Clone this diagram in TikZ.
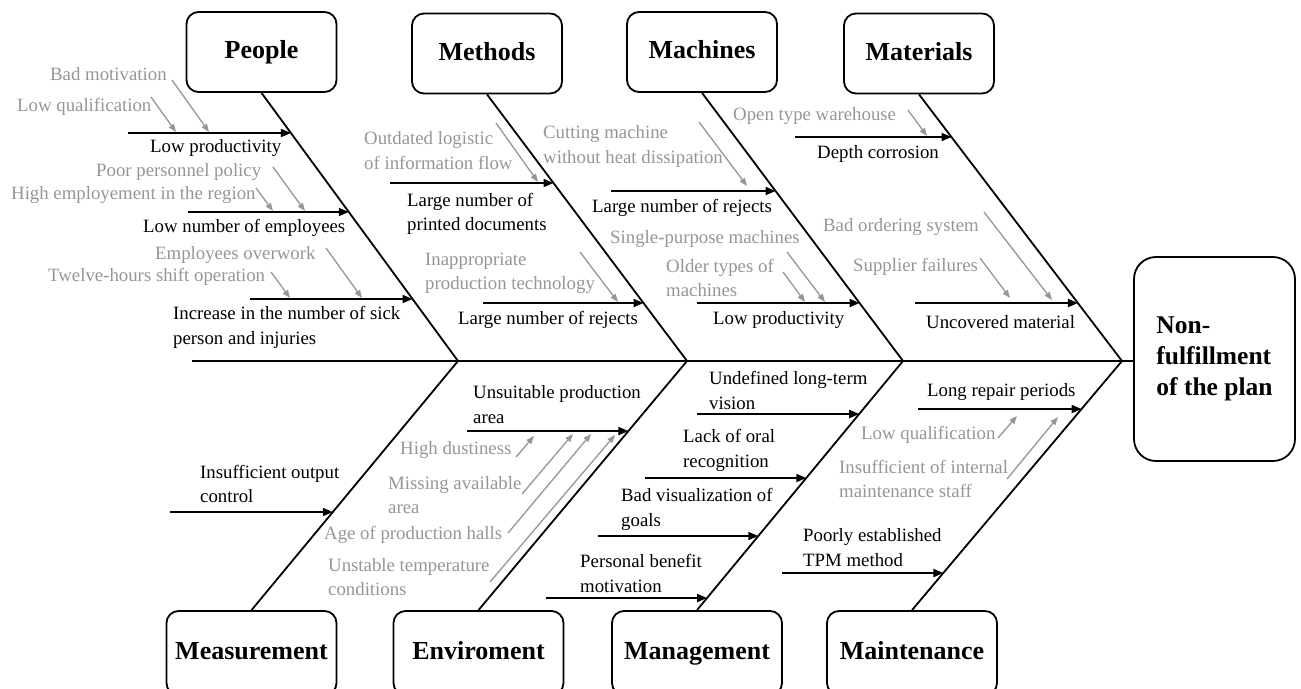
\documentclass[tikz,border=0pt]{standalone}
\usepackage{fontspec}
\setmainfont{Liberation Serif}
\usetikzlibrary{arrows.meta,calc}
\definecolor{causegray}{RGB}{150,150,150}
\newcommand\fbtip[4]{\coordinate (#1) at (intersection of #2--#3 and 0,#4--1,#4);}
\tikzset{
  catbox/.style={draw, line width=1.8pt, rounded corners=12pt, minimum width=150pt, minimum height=80pt,
    font=\fontsize{26}{30}\selectfont\bfseries, inner sep=0pt, text height=18pt, text depth=5pt},
  lowbox/.style={catbox, minimum width=170pt, minimum height=84pt},
  headbox/.style={draw, line width=1.8pt, rounded corners=22pt, minimum width=161pt, minimum height=204pt,
    font=\fontsize{25.5}{31}\selectfont\bfseries, align=left, inner sep=0pt},
  bone/.style={line width=1.8pt},
  branch/.style={line width=1.8pt, -{Triangle[length=10pt,width=8pt]}},
  garrow/.style={draw=causegray, line width=1.3pt, -{Triangle[length=8pt,width=6pt]}},
  lab/.style={font=\fontsize{18.8}{24.5}\selectfont, anchor=west, inner sep=0pt, align=left},
  glab/.style={lab, text=causegray},
}
\begin{document}
\begin{tikzpicture}[x=1pt,y=-1pt]
\useasboundingbox (0,0) rectangle (1301,688);
\clip (0,0) rectangle (1301,688);

% category boxes
\node[catbox] (people) at (261.5,52) {People};
\node[catbox] (methods) at (487,53.5) {Methods};
\node[catbox] (machines) at (702,52) {Machines};
\node[catbox] (materials) at (919,53.5) {Materials};
\node[lowbox] (measure) at (251.5,653) {Measurement};
\node[lowbox] (envir) at (478.5,653) {Enviroment};
\node[lowbox] (manage) at (697,653) {Management};
\node[lowbox] (maint) at (912,653) {Maintenance};
\node[headbox] (head) at (1214.5,359) {Non-\\fulfillment\\of the plan};

% spine
\coordinate (J1) at (458,361);
\coordinate (J2) at (687,361);
\coordinate (J3) at (903,361);
\coordinate (J4) at (1122,361);
\coordinate (spineL) at (192,361);
\draw[bone] (spineL) -- (spineL -| head.west);

% bones
\draw[bone] (people.south) -- (J1) -- (measure.north);
\draw[bone] (methods.south) -- (J2) -- (envir.north);
\draw[bone] (machines.south) -- (J3) -- (manage.north);
\draw[bone] (materials.south) -- (J4) -- (maint.north);

% ---------- People ----------
\fbtip{p1}{people.south}{J1}{133}
\coordinate (p1s) at (128,133);
\draw[branch] (p1s) -- (p1);
\node[lab] (lp1) at (150,148) {Low productivity};
\node[glab] (gp1a) at (50,74) {Bad motivation};
\coordinate (gp1as) at (172,80); \coordinate (gp1ae) at (209,132);
\draw[garrow] (gp1as) -- (gp1ae);
\node[glab] (gp1b) at (17,107) {Low qualification};
\coordinate (gp1bs) at (151,97); \coordinate (gp1be) at (176,132);
\draw[garrow] (gp1bs) -- (gp1be);

\fbtip{p2}{people.south}{J1}{212}
\coordinate (p2s) at (188,212);
\draw[branch] (p2s) -- (p2);
\node[lab] (lp2) at (143,228) {Low number of employees};
\node[glab] (gp2a) at (96,172) {Poor personnel policy};
\coordinate (gp2as) at (273,167); \coordinate (gp2ae) at (305,211);
\draw[garrow] (gp2as) -- (gp2ae);
\node[glab] (gp2b) at (11,195) {High employement in the region};
\coordinate (gp2bs) at (256,188); \coordinate (gp2be) at (273,211);
\draw[garrow] (gp2bs) -- (gp2be);

\fbtip{p3}{people.south}{J1}{299}
\coordinate (p3s) at (250,299);
\draw[branch] (p3s) -- (p3);
\node[lab] (lp3) at (173,327.5) {Increase in the number of sick\\person and injuries};
\node[glab] (gp3a) at (155,255) {Employees overwork};
\coordinate (gp3as) at (326,248); \coordinate (gp3ae) at (362,298);
\draw[garrow] (gp3as) -- (gp3ae);
\node[glab] (gp3b) at (48,277) {Twelve-hours shift operation};
\coordinate (gp3bs) at (271,272); \coordinate (gp3be) at (290,298);
\draw[garrow] (gp3bs) -- (gp3be);

% ---------- Methods ----------
\fbtip{m1}{methods.south}{J2}{183}
\coordinate (m1s) at (390,183);
\draw[branch] (m1s) -- (m1);
\node[lab] (lm1) at (407,214) {Large number of\\printed documents};
\node[glab] (gm1a) at (364,150.5) {Outdated logistic\\of information flow};
\coordinate (gm1as) at (496,123); \coordinate (gm1ae) at (538,182);
\draw[garrow] (gm1as) -- (gm1ae);

\fbtip{m2}{methods.south}{J2}{303}
\coordinate (m2s) at (483,303);
\draw[branch] (m2s) -- (m2);
\node[lab] (lm2) at (458,320) {Large number of rejects};
\node[glab] (gm2a) at (425,273.5) {Inappropriate\\production technology};
\coordinate (gm2as) at (580,252); \coordinate (gm2ae) at (618,302);
\draw[garrow] (gm2as) -- (gm2ae);

% ---------- Machines ----------
\fbtip{c1}{machines.south}{J3}{191}
\coordinate (c1s) at (611,191);
\draw[branch] (c1s) -- (c1);
\node[lab] (lc1) at (592,208) {Large number of rejects};
\node[glab] (gc1a) at (543,146.5) {Cutting machine\\without heat dissipation};
\coordinate (gc1as) at (699,122); \coordinate (gc1ae) at (747,186);
\draw[garrow] (gc1as) -- (gc1ae);

\fbtip{c2}{machines.south}{J3}{303}
\coordinate (c2s) at (697,303);
\draw[branch] (c2s) -- (c2);
\node[lab] (lc2) at (713,320) {Low productivity};
\node[glab] (gc2a) at (610,239) {Single-purpose machines};
\coordinate (gc2as) at (787,252); \coordinate (gc2ae) at (825,302);
\draw[garrow] (gc2as) -- (gc2ae);
\node[glab] (gc2b) at (666,278) {Older types of\\machines};
\coordinate (gc2bs) at (783,272); \coordinate (gc2be) at (805,302);
\draw[garrow] (gc2bs) -- (gc2be);

% ---------- Materials ----------
\fbtip{t1}{materials.south}{J4}{137}
\coordinate (t1s) at (795,137);
\draw[branch] (t1s) -- (t1);
\node[lab] (lt1) at (817,154) {Depth corrosion};
\node[glab] (gt1a) at (733,116) {Open type warehouse};
\coordinate (gt1as) at (908,110); \coordinate (gt1ae) at (927,136);
\draw[garrow] (gt1as) -- (gt1ae);

\fbtip{t2}{materials.south}{J4}{303}
\coordinate (t2s) at (915,303);
\draw[branch] (t2s) -- (t2);
\node[lab] (lt2) at (926,322) {Uncovered material};
\node[glab] (gt2a) at (823,227) {Bad ordering system};
\coordinate (gt2as) at (984,212); \coordinate (gt2ae) at (1052,300);
\draw[garrow] (gt2as) -- (gt2ae);
\node[glab] (gt2b) at (853,267) {Supplier failures};
\coordinate (gt2bs) at (980,258); \coordinate (gt2be) at (1010,298);
\draw[garrow] (gt2bs) -- (gt2be);

% ---------- Measurement ----------
\fbtip{s1}{measure.north}{J1}{512}
\coordinate (s1s) at (170,512);
\draw[branch] (s1s) -- (s1);
\node[lab] (ls1) at (200,484) {Insufficient output\\control};

% ---------- Enviroment ----------
\fbtip{e1}{envir.north}{J2}{431}
\coordinate (e1s) at (467,431);
\draw[branch] (e1s) -- (e1);
\node[lab] (le1) at (473,404.5) {Unsuitable production\\area};
\node[glab] (ge1a) at (400,450) {High dustiness};
\coordinate (ge1as) at (516,457); \coordinate (ge1ae) at (534,436);
\draw[garrow] (ge1as) -- (ge1ae);
\node[glab] (ge1b) at (388,495) {Missing available\\area};
\coordinate (ge1bs) at (522,494); \coordinate (ge1be) at (573,434);
\draw[garrow] (ge1bs) -- (ge1be);
\node[glab] (ge1c) at (324,535) {Age of production halls};
\coordinate (ge1cs) at (508,533); \coordinate (ge1ce) at (591,434);
\draw[garrow] (ge1cs) -- (ge1ce);
\node[glab] (ge1d) at (328,577) {Unstable temperature\\conditions};
\coordinate (ge1ds) at (490,582); \coordinate (ge1de) at (615,435);
\draw[garrow] (ge1ds) -- (ge1de);

% ---------- Management ----------
\fbtip{g1}{manage.north}{J3}{414}
\coordinate (g1s) at (697,414);
\draw[branch] (g1s) -- (g1);
\node[lab] (lg1) at (709,390.5) {Undefined long-term\\vision};
\fbtip{g2}{manage.north}{J3}{478}
\coordinate (g2s) at (645,478);
\draw[branch] (g2s) -- (g2);
\node[lab] (lg2) at (683,450.5) {Lack of oral\\recognition};
\fbtip{g3}{manage.north}{J3}{536}
\coordinate (g3s) at (598,536);
\draw[branch] (g3s) -- (g3);
\node[lab] (lg3) at (621,509.5) {Bad visualization of\\goals};
\fbtip{g4}{manage.north}{J3}{598}
\coordinate (g4s) at (546,598);
\draw[branch] (g4s) -- (g4);
\node[lab] (lg4) at (580,573.5) {Personal benefit\\motivation};

% ---------- Maintenance ----------
\fbtip{n1}{maint.north}{J4}{409}
\coordinate (n1s) at (918,409);
\draw[branch] (n1s) -- (n1);
\node[lab] (ln1) at (927,392) {Long repair periods};
\node[glab] (gn1a) at (861,435) {Low qualification};
\coordinate (gn1as) at (998,438); \coordinate (gn1ae) at (1017,416);
\draw[garrow] (gn1as) -- (gn1ae);
\node[glab] (gn1b) at (839,479) {Insufficient of internal\\maintenance staff};
\coordinate (gn1bs) at (1007,479); \coordinate (gn1be) at (1058,417);
\draw[garrow] (gn1bs) -- (gn1be);
\fbtip{n2}{maint.north}{J4}{573}
\coordinate (n2s) at (782,573);
\draw[branch] (n2s) -- (n2);
\node[lab] (ln2) at (803,547.5) {Poorly established\\TPM method};
\end{tikzpicture}
\end{document}
